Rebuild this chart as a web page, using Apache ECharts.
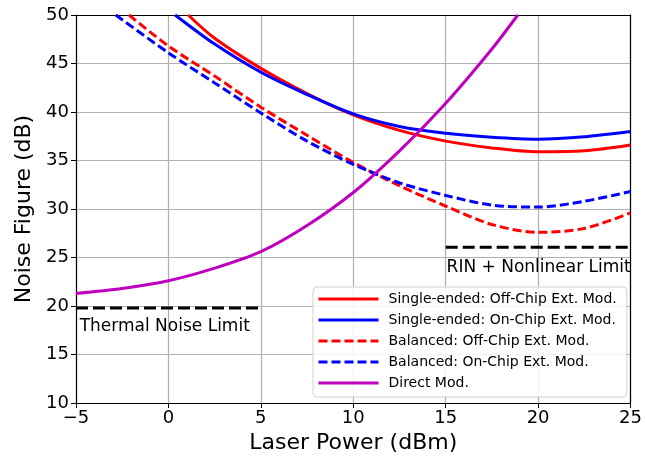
<!DOCTYPE html>
<html>
<head>
<meta charset="utf-8">
<script src="https://cdn.jsdelivr.net/npm/echarts@6/dist/echarts.min.js"></script>
<style>
  html, body { margin: 0; padding: 0; background: #fff; }
  #chart { width: 645px; height: 462px; }
</style>
</head>
<body>
<div id="chart"></div>
<script>
// values (x: laser power dBm, y: noise figure dB)
const seOffX = [1.07, 2.5, 5, 7.5, 10, 12.5, 15, 17.5, 20, 22.5, 25]
const seOffY = [50, 47.6, 44.5, 41.9, 39.7, 38.1, 37.0, 36.3, 35.9, 36.0, 36.6]
const seOnX = [0.36, 2.5, 5, 7.5, 10, 12.5, 15, 17.5, 20, 22.5, 25]
const seOnY = [50, 47.0, 44.1, 41.8, 39.8, 38.5, 37.8, 37.4, 37.2, 37.45, 38.0]
const balOffX = [-2.13, 0, 2.5, 5, 7.5, 10, 12.5, 15, 17.5, 20, 22.5, 25]
const balOffY = [50, 46.8, 43.7, 40.5, 37.6, 34.8, 32.4, 30.3, 28.4, 27.6, 28.0, 29.6]
const balOnX = [-2.85, 0, 2.5, 5, 7.5, 10, 12.5, 15, 17.5, 20, 22.5, 25]
const balOnY = [50, 46.1, 43.0, 39.9, 37.0, 34.6, 32.7, 31.4, 30.4, 30.2, 30.8, 31.8]
const directX = [-5, -2.5, 0, 2.5, 5, 7.5, 10, 12.5, 15, 17.5, 18.9]
const directY = [21.3, 21.8, 22.6, 23.9, 25.6, 28.3, 31.7, 36.0, 40.9, 46.5, 50]
const thermalX = [-5, 5]
const thermalY = [19.8, 19.8]
const rinX = [15, 25]
const rinY = [26.05, 26.05]

const names = [
  'Single-ended: Off-Chip Ext. Mod.',
  'Single-ended: On-Chip Ext. Mod.',
  'Balanced: Off-Chip Ext. Mod.',
  'Balanced: On-Chip Ext. Mod.',
  'Direct Mod.',
]

const font = 'DejaVu Sans'
const zip = (xs, ys) => xs.map((x, i) => [x, ys[i]])

function curve(name, xs, ys, color, type) {
  return {
    name: name,
    type: 'line',
    data: zip(xs, ys),
    smooth: 0.3,
    symbol: 'none',
    color: color,
    lineStyle: { color: color, width: 3, type: type === 'dashed' ? [9, 4] : 'solid' },
    itemStyle: { color: color },
    z: 3,
  }
}

function limit(xs, ys) {
  return {
    type: 'line',
    data: zip(xs, ys),
    symbol: 'none',
    silent: true,
    lineStyle: { color: '#000', width: 3, type: [12, 5] },
    z: 2,
  }
}

// plain frame lines for the top and right side
const frame = {
  type: 'value',
  axisLine: { show: true, onZero: false, lineStyle: { color: '#000', width: 1.2 } },
  axisTick: { show: false },
  axisLabel: { show: false },
  splitLine: { show: false },
}

const chart = echarts.init(document.getElementById('chart'))
const option = {
  animation: false,
  textStyle: { fontFamily: font },
  grid: { left: 76, right: 13, top: 15, bottom: 59 },
  xAxis: [
    {
      type: 'value',
      min: -5, max: 25, interval: 5,
      name: 'Laser Power (dBm)',
      nameLocation: 'middle',
      nameGap: 26,
      nameTextStyle: { fontSize: 22, color: '#000', fontFamily: font },
      axisLine: { show: true, onZero: false, lineStyle: { color: '#000', width: 1.2 } },
      axisTick: { show: true, length: 5, lineStyle: { color: '#000' } },
      axisLabel: {
        fontSize: 18, color: '#000', margin: 6, fontFamily: font,
        formatter: v => String(v).replace('-', '\u2212'),
      },
      splitLine: { show: true, lineStyle: { color: '#b0b0b0', width: 1.2 } },
    },
    Object.assign({ position: 'top', min: -5, max: 25 }, frame),
  ],
  yAxis: [
    {
      type: 'value',
      min: 10, max: 50, interval: 5,
      name: 'Noise Figure (dB)',
      nameLocation: 'middle',
      nameGap: 38,
      nameTextStyle: { fontSize: 22, color: '#000', fontFamily: font },
      axisLine: { show: true, onZero: false, lineStyle: { color: '#000', width: 1.2 } },
      axisTick: { show: true, length: 5, lineStyle: { color: '#000' } },
      axisLabel: { fontSize: 18, color: '#000', margin: 7, fontFamily: font },
      splitLine: { show: true, lineStyle: { color: '#b0b0b0', width: 1.2 } },
    },
    Object.assign({ position: 'right', min: 10, max: 50 }, frame),
  ],
  legend: {
    data: names,
    orient: 'vertical',
    left: 313,
    top: 287,
    itemWidth: 60,
    itemHeight: 14,
    itemGap: 7,
    padding: [5, 10, 7, 4],
    backgroundColor: 'rgba(255,255,255,0.85)',
    borderColor: '#d0d0d0',
    borderWidth: 1,
    borderRadius: 4,
    itemStyle: { opacity: 0 },
    lineStyle: { width: 3 },
    textStyle: { fontSize: 14, color: '#000', fontFamily: font, padding: [0, 0, 0, 5] },
  },
  series: [
    curve(names[0], seOffX, seOffY, '#ff0000', 'solid'),
    curve(names[1], seOnX, seOnY, '#0000ff', 'solid'),
    curve(names[2], balOffX, balOffY, '#ff0000', 'dashed'),
    curve(names[3], balOnX, balOnY, '#0000ff', 'dashed'),
    curve(names[4], directX, directY, '#bf00bf', 'solid'),
    limit(thermalX, thermalY),
    limit(rinX, rinY),
  ],
}
chart.setOption(option)

// text notes under the limit lines
const p1 = chart.convertToPixel({ xAxisIndex: 0, yAxisIndex: 0 }, [-4.8, 17.9])
const p2 = chart.convertToPixel({ xAxisIndex: 0, yAxisIndex: 0 }, [15.05, 24.0])
chart.setOption({
  graphic: [
    {
      type: 'text', x: p1[0], y: p1[1],
      style: { text: 'Thermal Noise Limit', fontSize: 17, fontFamily: font, fill: '#000', textVerticalAlign: 'middle' },
      z: 10,
    },
    {
      type: 'text', x: p2[0], y: p2[1],
      style: { text: 'RIN + Nonlinear Limit', fontSize: 17, fontFamily: font, fill: '#000', textVerticalAlign: 'middle' },
      z: 10,
    },
  ],
})
</script>
</body>
</html>
